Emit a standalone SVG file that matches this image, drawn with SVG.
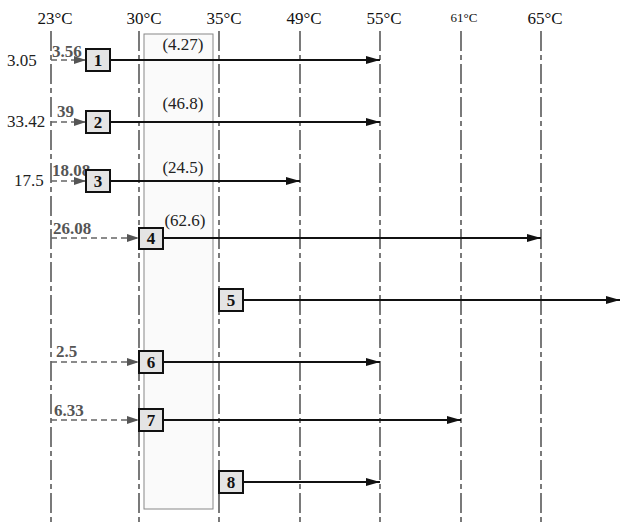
<svg xmlns="http://www.w3.org/2000/svg" width="620" height="525" viewBox="0 0 620 525" font-family="'Liberation Serif', 'Times New Roman', serif">
<style>
text{font-family:'Liberation Serif','Times New Roman',serif;}
.ax{font-size:17px;fill:#111;text-anchor:middle;}
.vl{stroke:#333;stroke-width:1.3;stroke-dasharray:20 4 5 4;fill:none;}
.box{fill:#e4e4e4;stroke:#111;stroke-width:2;}
.nl{font-size:17px;font-weight:bold;fill:#111;text-anchor:middle;}
.arr{stroke:#111;stroke-width:2;fill:none;marker-end:url(#ah);}
.da{stroke:#666;stroke-width:1.3;stroke-dasharray:6 4;fill:none;marker-end:url(#ag);}
.gl{font-size:17px;font-weight:bold;fill:#555;}
.lv{font-size:17px;fill:#222;}
.pv{font-size:17px;fill:#222;text-anchor:middle;}
</style>
<defs>
<marker id="ah" markerWidth="14" markerHeight="8" refX="14" refY="4" orient="auto" markerUnits="userSpaceOnUse"><path d="M0,0 L14,4 L0,8 z" fill="#111"/></marker>
<marker id="ag" markerWidth="12" markerHeight="8" refX="12" refY="4" orient="auto" markerUnits="userSpaceOnUse"><path d="M0,0 L12,4 L0,8 z" fill="#555"/></marker>
</defs>
<rect x="0" y="0" width="620" height="525" fill="#fff"/>
<g id="band"><rect x="144" y="34" width="69" height="475" fill="#fafafa" stroke="#888" stroke-width="1"/></g>
<g id="axis">
<text class="ax" x="55" y="24">23°C</text>
<text class="ax" x="144" y="24">30°C</text>
<text class="ax" x="224" y="24">35°C</text>
<text class="ax" x="304" y="24">49°C</text>
<text class="ax" x="384" y="24">55°C</text>
<text class="ax" x="464" y="22" style="font-size:13px">61°C</text>
<text class="ax" x="545" y="24">65°C</text>
<line class="vl" x1="51" y1="31" x2="51" y2="525"/>
<line class="vl" x1="139" y1="31" x2="139" y2="525"/>
<line class="vl" x1="219" y1="31" x2="219" y2="525"/>
<line class="vl" x1="300" y1="31" x2="300" y2="525"/>
<line class="vl" x1="380" y1="31" x2="380" y2="525"/>
<line class="vl" x1="461" y1="31" x2="461" y2="525"/>
<line class="vl" x1="541" y1="31" x2="541" y2="525"/>
</g>
<g id="connectors">
<line class="arr" x1="110" y1="60" x2="380" y2="60"/>
<line class="arr" x1="110" y1="122" x2="380" y2="122"/>
<line class="arr" x1="110" y1="181" x2="300" y2="181"/>
<line class="arr" x1="163" y1="238" x2="541" y2="238"/>
<line class="arr" x1="243" y1="300" x2="620" y2="300"/>
<line class="arr" x1="163" y1="362" x2="380" y2="362"/>
<line class="arr" x1="163" y1="420" x2="461" y2="420"/>
<line class="arr" x1="243" y1="482" x2="380" y2="482"/>
<line class="da" x1="51" y1="60" x2="86" y2="60"/>
<line class="da" x1="51" y1="122" x2="86" y2="122"/>
<line class="da" x1="51" y1="181" x2="86" y2="181"/>
<line class="da" x1="51" y1="238" x2="139" y2="238"/>
<line class="da" x1="51" y1="362" x2="139" y2="362"/>
<line class="da" x1="51" y1="420" x2="139" y2="420"/>
</g>
<g id="labels">
<text class="lv" x="7" y="66">3.05</text>
<text class="lv" x="7" y="127">33.42</text>
<text class="lv" x="14" y="186">17.5</text>
<text class="gl" x="52" y="57">3.56</text>
<text class="gl" x="57" y="117">39</text>
<text class="gl" x="52" y="176">18.08</text>
<text class="gl" x="53" y="234">26.08</text>
<text class="gl" x="56" y="357">2.5</text>
<text class="gl" x="54" y="416">6.33</text>
<text class="pv" x="183" y="50">(4.27)</text>
<text class="pv" x="183" y="109">(46.8)</text>
<text class="pv" x="183" y="173">(24.5)</text>
<text class="pv" x="185" y="226">(62.6)</text>
</g>
<g id="n1"><rect class="box" x="86" y="49" width="24" height="22"/><text class="nl" x="98" y="66">1</text></g>
<g id="n2"><rect class="box" x="86" y="111" width="24" height="22"/><text class="nl" x="98" y="128">2</text></g>
<g id="n3"><rect class="box" x="86" y="170" width="24" height="22"/><text class="nl" x="98" y="187">3</text></g>
<g id="n4"><rect class="box" x="139" y="228" width="24" height="21"/><text class="nl" x="151" y="244">4</text></g>
<g id="n5"><rect class="box" x="219" y="289" width="24" height="22"/><text class="nl" x="231" y="306">5</text></g>
<g id="n6"><rect class="box" x="139" y="351" width="24" height="22"/><text class="nl" x="151" y="368">6</text></g>
<g id="n7"><rect class="box" x="139" y="409" width="24" height="22"/><text class="nl" x="151" y="426">7</text></g>
<g id="n8"><rect class="box" x="219" y="471" width="24" height="22"/><text class="nl" x="231" y="488">8</text></g>
</svg>
